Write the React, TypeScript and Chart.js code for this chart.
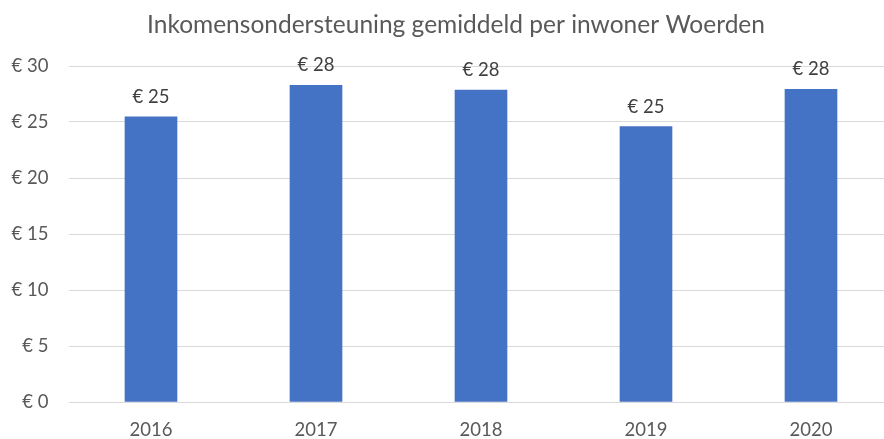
import React, { useEffect, useRef } from "react";
import { Chart, registerables } from "chart.js";

Chart.register(...registerables);

const titleText = "Inkomensondersteuning gemiddeld per inwoner Woerden";
const categories = ["2016", "2017", "2018", "2019", "2020"];
const values = [25.47, 28.28, 27.86, 24.58, 27.92];
const yTickStep = 5;
const yMax = 30;

const FONT = "Lato, 'Open Sans', sans-serif";

const labelPlugin = {
  id: "barLabels",
  afterDatasetsDraw(chart: any) {
    const ctx = chart.ctx;
    const meta = chart.getDatasetMeta(0);
    ctx.save();
    ctx.fillStyle = "#404040";
    ctx.font = `18.5px ${FONT}`;
    ctx.textAlign = "center";
    ctx.textBaseline = "alphabetic";
    meta.data.forEach((bar: any, i: number) => {
      const v = chart.data.datasets[0].data[i];
      ctx.fillText("€ " + Math.round(v), bar.x, bar.y - 14);
    });
    ctx.restore();
  },
};

const titlePlugin = {
  id: "customTitle",
  afterDraw(chart: any) {
    const ctx = chart.ctx;
    ctx.save();
    ctx.fillStyle = "#595959";
    ctx.font = `24.5px ${FONT}`;
    ctx.textAlign = "center";
    ctx.textBaseline = "alphabetic";
    ctx.fillText(titleText, 456, 33);
    ctx.restore();
  },
};

export default function App() {
  const ref = useRef<HTMLCanvasElement | null>(null);
  useEffect(() => {
    if (!ref.current) return;
    const chart = new Chart(ref.current, {
      type: "bar",
      data: {
        labels: categories,
        datasets: [
          {
            data: values,
            backgroundColor: "#4472C4",
            barThickness: 52,
          },
        ],
      },
      options: {
        animation: false,
        responsive: false,
        maintainAspectRatio: false,
        layout: { padding: { top: 66, right: 18.5, left: 0, bottom: 0 } },
        plugins: {
          legend: { display: false },
          title: { display: false },
          tooltip: { enabled: false },
        },
        scales: {
          x: {
            grid: { display: false, drawTicks: false },
            border: { display: false },
            ticks: {
              color: "#595959",
              font: { family: FONT, size: 18.5 },
              padding: 17,
            },
            afterFit(scale: any) {
              scale.height = 37;
            },
          },
          y: {
            min: 0,
            max: yMax,
            grid: { color: "#d9d9d9", lineWidth: 1, drawTicks: false },
            border: { display: false },
            ticks: {
              stepSize: yTickStep,
              color: "#595959",
              font: { family: FONT, size: 18.5 },
              padding: 20,
              callback: (v: any) => "€ " + v,
            },
            afterFit(scale: any) {
              scale.width = 68.5;
            },
          },
        },
      },
      plugins: [labelPlugin, titlePlugin],
    });
    return () => chart.destroy();
  }, []);
  return (
    <div
      style={{
        position: "absolute",
        left: 0,
        top: 0,
        width: 884,
        height: 439,
        overflow: "hidden",
        background: "#fff",
      }}
    >
      <canvas ref={ref} width={912} height={439} style={{ display: "block" }} />
    </div>
  );
}
